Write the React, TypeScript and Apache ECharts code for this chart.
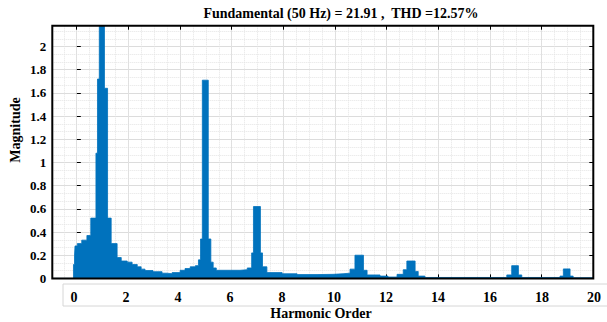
import React, { useEffect, useRef } from "react";
import * as echarts from "echarts";

// Spectrum: each magnitude holds from its harmonic start to the next start.
const harmonicStart = [-0.95, -0.13, -0.09, -0.07, 0.02, 0.19, 0.39, 0.54, 0.74, 0.8, 0.87, 1.07, 1.19, 1.33, 1.56, 1.72, 1.95, 2.14, 2.34, 2.49, 2.64, 2.95, 3.3, 3.5, 3.69, 4.0, 4.19, 4.39, 4.59, 4.71, 4.79, 4.86, 5.09, 5.19, 5.28, 5.4, 5.94, 6.32, 6.6, 6.77, 6.84, 7.11, 7.19, 7.36, 7.95, 8.53, 9.3, 9.92, 10.31, 10.58, 10.77, 11.1, 11.24, 11.74, 12.05, 12.4, 12.64, 12.78, 13.1, 13.22, 13.48, 16.65, 16.84, 17.1, 17.23, 18.71, 18.84, 19.1, 19.22, 20];
const magnitudes = [0, 0.12, 0.2, 0.28, 0.3, 0.33, 0.37, 0.52, 1.08, 1.72, 21.91, 1.64, 0.52, 0.3, 0.18, 0.15, 0.14, 0.12, 0.1, 0.08, 0.068, 0.058, 0.045, 0.04, 0.05, 0.07, 0.085, 0.1, 0.11, 0.16, 0.34, 1.71, 0.34, 0.14, 0.09, 0.07, 0.07, 0.075, 0.09, 0.22, 0.62, 0.22, 0.1, 0.05, 0.04, 0.033, 0.035, 0.04, 0.045, 0.08, 0.2, 0.07, 0.03, 0.02, 0.012, 0.035, 0.075, 0.15, 0.06, 0.02, 0.008, 0.03, 0.11, 0.03, 0.008, 0.02, 0.082, 0.02, 0.006, 0.005];

const titleText = "Fundamental (50 Hz) = 21.91 ,  THD =12.57%";
const xName = "Harmonic Order";
const yName = "Magnitude";
const xMin = -0.95;
const xMax = 20;
const yMax = 2.18;

const FONT = "'Liberation Serif', 'Times New Roman', serif";
const BLUE = "#0072bd";

export default function App() {
  const ref = useRef<HTMLDivElement>(null);
  useEffect(() => {
    if (!ref.current) return;
    document.body.style.margin = "0";
    const chart = echarts.init(ref.current, null, { renderer: "svg" });
    const data = harmonicStart.map((h, i) => [h, magnitudes[i]]);
    const plot = { left: 52.3, top: 25.7, width: 541, height: 252.7 };
    const majorLine = { show: true, lineStyle: { color: "#dcdcdc", width: 1, type: "solid" as const } };
    const minorLine = { show: true, lineStyle: { color: "#e4e4e4", width: 1, type: "dotted" as const } };
    const hiddenY = (gridIndex: number) => ({
      type: "value" as const, gridIndex, min: 0, max: 1, show: false,
    });
    chart.setOption({
      animation: false,
      backgroundColor: "#ffffff",
      grid: [
        { ...plot, containLabel: false },
        { left: 76.7, top: plot.top, width: 516.6, height: plot.height },
        { left: 63.8, top: plot.top, width: 529.5, height: plot.height },
        { left: 74, top: 283, width: 520, height: 1 },
      ],
      xAxis: [
        { type: "value", gridIndex: 0, min: xMin, max: xMax, show: false },
        {
          type: "value", gridIndex: 1, min: 0, max: 20, interval: 2, position: "bottom",
          axisLine: { show: false }, axisLabel: { show: false },
          axisTick: { show: true, inside: true, length: 4, lineStyle: { color: "#000" } },
          splitLine: majorLine,
        },
        {
          type: "value", gridIndex: 1, min: 0, max: 20, interval: 2, position: "top",
          axisLine: { show: false }, axisLabel: { show: false },
          axisTick: { show: true, inside: true, length: 4, lineStyle: { color: "#000" } },
          splitLine: { show: false },
        },
        {
          type: "value", gridIndex: 2, min: -0.5, max: 20, interval: 0.5,
          axisLine: { show: false }, axisLabel: { show: false }, axisTick: { show: false },
          splitLine: minorLine,
        },
        {
          type: "value", gridIndex: 3, min: 0, max: 20, interval: 2, position: "bottom",
          axisLine: { show: false }, axisTick: { show: false }, splitLine: { show: false },
          axisLabel: {
            show: true, margin: 6, color: "#000", fontFamily: FONT, fontWeight: "bold", fontSize: 14,
          },
        },
      ],
      yAxis: [
        {
          type: "value", gridIndex: 0, min: 0, max: yMax, interval: 0.2, position: "left",
          axisLine: { show: false },
          axisTick: { show: true, inside: true, length: 4, lineStyle: { color: "#000" } },
          minorTick: { show: false, splitNumber: 3 },
          splitLine: majorLine,
          minorSplitLine: minorLine,
          axisLabel: {
            show: true, margin: 6, color: "#000", fontFamily: FONT, fontWeight: "bold", fontSize: 13,
            showMaxLabel: false,
            formatter: (v: number) => (v > 2.05 ? "" : String(+v.toFixed(1))),
          },
        },
        {
          type: "value", gridIndex: 0, min: 0, max: yMax, interval: 0.2, position: "right",
          axisLine: { show: false }, axisLabel: { show: false }, splitLine: { show: false },
          axisTick: { show: true, inside: true, length: 4, lineStyle: { color: "#000" } },
        },
        hiddenY(1),
        hiddenY(2),
        hiddenY(3),
      ],
      series: [
        {
          type: "line", xAxisIndex: 0, yAxisIndex: 0, data, step: "end", symbol: "none",
          z: 5, clip: true,
          lineStyle: { color: BLUE, width: 0.8 },
          areaStyle: { color: BLUE, opacity: 1 },
        },
      ],
      graphic: [
        {
          type: "rect", z: 100, silent: true,
          shape: { x: plot.left, y: plot.top, width: plot.width, height: plot.height },
          style: { fill: "transparent", stroke: "#000", lineWidth: 2 },
        },
        {
          type: "rect", z: 1, silent: true,
          shape: { x: 63, y: 284, width: 560, height: 22 },
          style: { fill: "transparent", stroke: "#d6d6d6", lineWidth: 1 },
        },
        {
          type: "text", x: 341, y: 13, z: 100,
          style: { text: titleText, fontFamily: FONT, fontWeight: "bold", fontSize: 14, fill: "#000", align: "center", verticalAlign: "middle" },
        },
        {
          type: "text", x: 15, y: 130, rotation: Math.PI / 2, z: 100,
          style: { text: yName, fontFamily: FONT, fontWeight: "bold", fontSize: 14, fill: "#000", align: "center", verticalAlign: "middle" },
        },
        {
          type: "text", x: 321, y: 313, z: 100,
          style: { text: xName, fontFamily: FONT, fontWeight: "bold", fontSize: 14, fill: "#000", align: "center", verticalAlign: "middle" },
        },
      ],
    });
    return () => chart.dispose();
  }, []);
  return <div ref={ref} style={{ width: 607, height: 322 }} />;
}
